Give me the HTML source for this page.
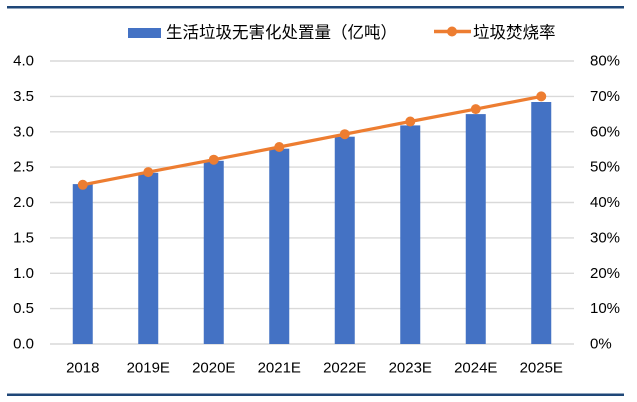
<!DOCTYPE html>
<html><head><meta charset="utf-8"><style>
html,body{margin:0;padding:0;background:#fff;}
svg{display:block;}
text{font-family:"Liberation Sans","Noto Sans CJK SC",sans-serif;fill:#000;}
</style></head><body>
<svg width="637" height="402" viewBox="0 0 637 402" xmlns="http://www.w3.org/2000/svg">
<rect width="637" height="402" fill="#fff"/>
<line x1="7" y1="7.2" x2="624" y2="7.2" stroke="#1f4778" stroke-width="2.5"/>
<line x1="7" y1="394.8" x2="624" y2="394.8" stroke="#1f4778" stroke-width="2.5"/>
<!-- legend -->
<rect x="128" y="28" width="33" height="10" fill="#4472C4"/>
<text x="166" y="33" font-size="16.5" dominant-baseline="central">生活垃圾无害化处置量（亿吨）</text>
<line x1="434" y1="31.5" x2="471" y2="31.5" stroke="#ED7D31" stroke-width="3.5"/>
<circle cx="452" cy="31.5" r="5" fill="#ED7D31"/>
<text x="473" y="33" font-size="16.5" dominant-baseline="central">垃圾焚烧率</text>
<!-- gridlines -->
<g stroke="#d9d9d9" stroke-width="1.4">
<line x1="50" y1="61" x2="574" y2="61"/>
<line x1="50" y1="96.4" x2="574" y2="96.4"/>
<line x1="50" y1="131.8" x2="574" y2="131.8"/>
<line x1="50" y1="167.1" x2="574" y2="167.1"/>
<line x1="50" y1="202.5" x2="574" y2="202.5"/>
<line x1="50" y1="237.9" x2="574" y2="237.9"/>
<line x1="50" y1="273.3" x2="574" y2="273.3"/>
<line x1="50" y1="308.6" x2="574" y2="308.6"/>
<line x1="50" y1="344" x2="574" y2="344"/>
</g>
<!-- left axis labels -->
<g font-size="15" text-anchor="end" dominant-baseline="central">
<text x="34" y="61">4.0</text>
<text x="34" y="96.4">3.5</text>
<text x="34" y="131.8">3.0</text>
<text x="34" y="167.1">2.5</text>
<text x="34" y="202.5">2.0</text>
<text x="34" y="237.9">1.5</text>
<text x="34" y="273.3">1.0</text>
<text x="34" y="308.6">0.5</text>
<text x="34" y="344">0.0</text>
</g>
<!-- right axis labels -->
<g font-size="15" text-anchor="start" dominant-baseline="central">
<text x="590" y="61">80%</text>
<text x="590" y="96.4">70%</text>
<text x="590" y="131.8">60%</text>
<text x="590" y="167.1">50%</text>
<text x="590" y="202.5">40%</text>
<text x="590" y="237.9">30%</text>
<text x="590" y="273.3">20%</text>
<text x="590" y="308.6">10%</text>
<text x="590" y="344">0%</text>
</g>
<!-- bars -->
<g fill="#4472C4">
<rect x="72.75" y="184.1" width="20" height="159.9"/>
<rect x="138.25" y="172.8" width="20" height="171.2"/>
<rect x="203.75" y="160.8" width="20" height="183.2"/>
<rect x="269.25" y="148.7" width="20" height="195.3"/>
<rect x="334.75" y="136.7" width="20" height="207.3"/>
<rect x="400.25" y="125.4" width="20" height="218.6"/>
<rect x="465.75" y="114.1" width="20" height="229.9"/>
<rect x="531.25" y="102.0" width="20" height="242.0"/>
</g>
<!-- line -->
<polyline fill="none" stroke="#ED7D31" stroke-width="3.2" stroke-linejoin="round"
 points="82.75,184.8 148.25,172.1 213.75,159.7 279.25,147.0 344.75,134.2 410.25,121.5 475.75,109.1 541.25,96.4"/>
<g fill="#ED7D31">
<circle cx="82.75" cy="184.8" r="5"/>
<circle cx="148.25" cy="172.1" r="5"/>
<circle cx="213.75" cy="159.7" r="5"/>
<circle cx="279.25" cy="147.0" r="5"/>
<circle cx="344.75" cy="134.2" r="5"/>
<circle cx="410.25" cy="121.5" r="5"/>
<circle cx="475.75" cy="109.1" r="5"/>
<circle cx="541.25" cy="96.4" r="5"/>
</g>
<!-- x labels -->
<g font-size="15" text-anchor="middle" dominant-baseline="central">
<text x="82.75" y="368">2018</text>
<text x="148.25" y="368">2019E</text>
<text x="213.75" y="368">2020E</text>
<text x="279.25" y="368">2021E</text>
<text x="344.75" y="368">2022E</text>
<text x="410.25" y="368">2023E</text>
<text x="475.75" y="368">2024E</text>
<text x="541.25" y="368">2025E</text>
</g>
</svg>
</body></html>
